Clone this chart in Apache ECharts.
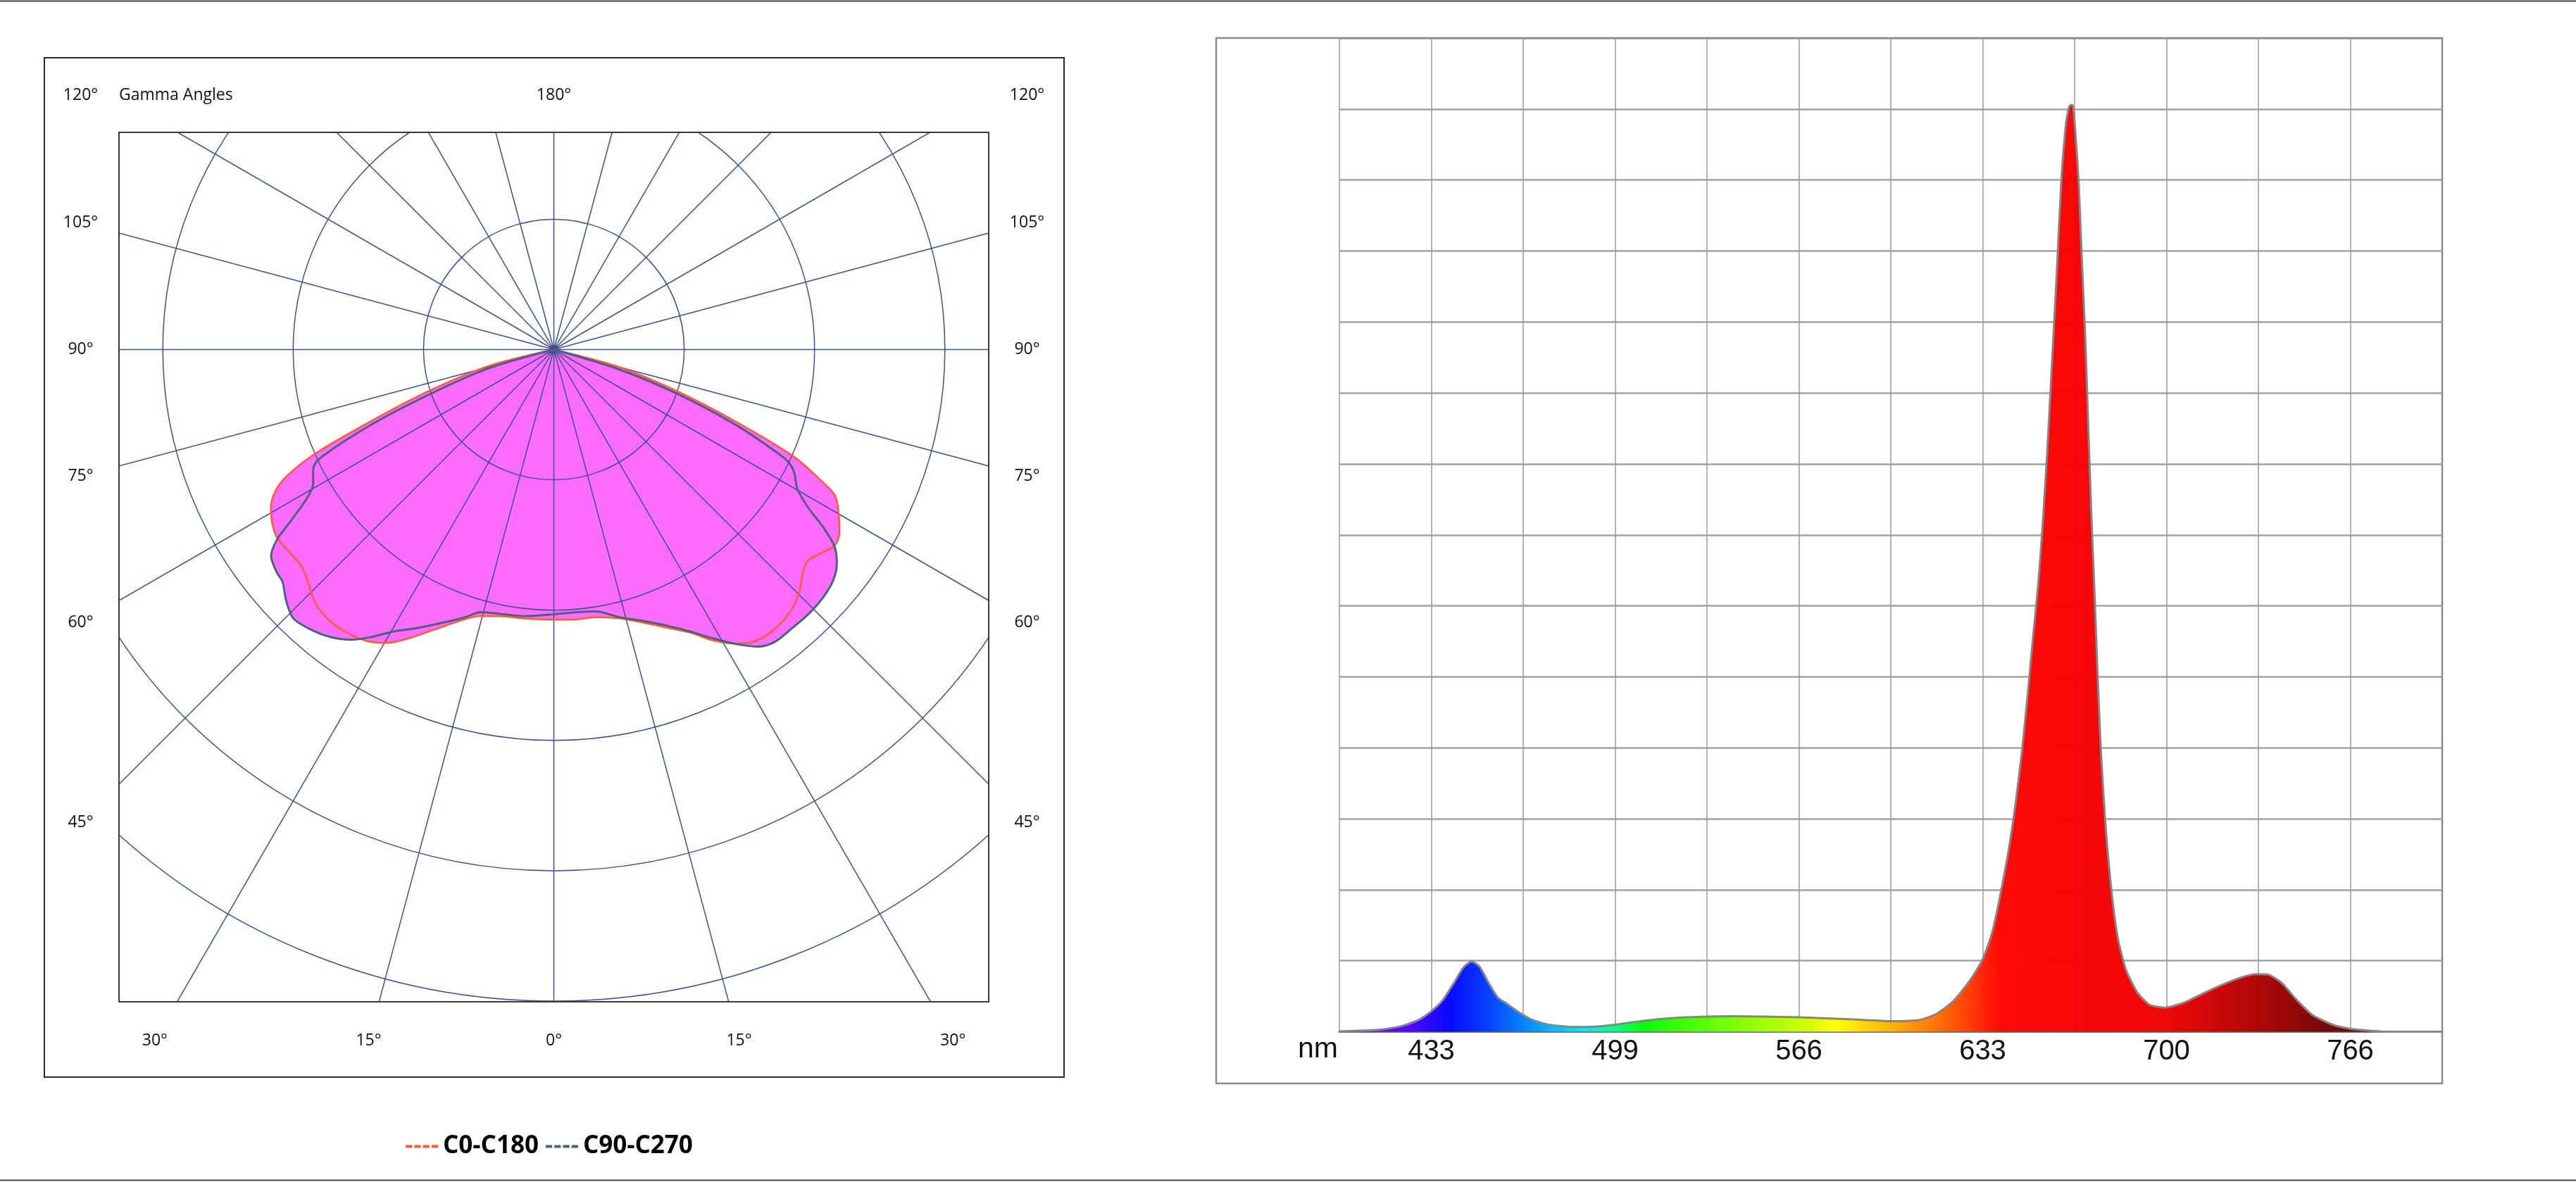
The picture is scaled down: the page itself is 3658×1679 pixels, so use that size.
<!DOCTYPE html>
<html>
<head>
<meta charset="utf-8">
<script src="https://cdn.jsdelivr.net/npm/echarts@6/dist/echarts.min.js"></script>
<style>
html,body{margin:0;padding:0;background:#ffffff;}
#chart{width:3658px;height:1679px;}
</style>
</head>
<body>
<div id="chart"></div>
<script>
// ---------------- Polar (gamma angle, intensity) data ----------------
// C0-C180 plane: left half (gamma 90 -> 0) and right half (gamma 0 -> 90)
const c0c180LeftGamma  = [90, 75.8, 71.7, 68.6, 66.4, 64.6, 63.1, 60.9, 58.3, 55.8, 52.7, 49.7, 47.0, 44.0, 40.9, 37.0, 32.8, 29.6, 26.7, 22.8, 19.1, 15.7, 11.4, 6.5, 0];
const c0c180LeftValue  = [0, 51.9, 100.5, 150.8, 200.4, 227.2, 239.3, 248.4, 254.0, 256.8, 255.8, 255.0, 258.7, 265.7, 269.5, 269.6, 265.9, 259.0, 248.2, 232.6, 220.3, 212.5, 208.7, 207.7, 207.3];
const c0c180RightGamma = [4.0, 9.0, 13.8, 17.3, 21.3, 25.7, 28.75, 31.9, 34.7, 38.3, 42.3, 45.4, 48.1, 50.2, 52.4, 55.05, 57.3, 60.3, 62.6, 64.0, 65.95, 68.3, 71.2, 74.9, 90];
const c0c180RightValue = [207.8, 208.0, 212.5, 218.9, 228.3, 241.1, 254.9, 265.9, 272.0, 273.3, 270.5, 264.5, 256.6, 253.4, 257.1, 262.8, 260.3, 251.4, 242.7, 226.5, 201.3, 151.3, 101.0, 52.3, 0];
// C90-C270 plane
const c90c270LeftGamma  = [90, 73.96, 70.2, 67.6, 65.0, 63.5, 60.9, 59.0, 56.9, 55.5, 53.8, 51.1, 49.4, 46.8, 44.1, 41.1, 37.8, 34.8, 32.5, 29.5, 26.05, 21.6, 18.4, 15.5, 11.5, 6.5, 0];
const c90c270LeftValue  = [0, 52.4, 101.4, 151.8, 198.7, 206.3, 211.3, 220.6, 240.8, 257.9, 268.8, 272.9, 274.1, 281.7, 287.3, 284.7, 279.3, 271.2, 261.7, 248.5, 237.8, 224.9, 216.6, 209.1, 207.0, 205.9, 203.2];
const c90c270RightGamma = [5.1, 9.2, 13.8, 18.2, 22.2, 25.8, 28.9, 31.9, 34.5, 37.05, 40.3, 44.2, 47.6, 50.5, 52.9, 54.9, 56.5, 58.2, 60.3, 62.65, 63.9, 64.8, 67.4, 70.2, 73.05, 90];
const c90c270RightValue = [202.3, 203.6, 211.6, 219.2, 228.8, 240.3, 253.3, 266.4, 276.7, 281.2, 281.3, 281.7, 280.7, 277.9, 272.2, 263.3, 248.5, 229.1, 214.8, 208.0, 202.7, 195.2, 152.4, 101.6, 52.8, 0];

const seriesNames = ['C0-C180', 'C90-C270'];
const sideGammaLabels = [120, 105, 90, 75, 60, 45];
const bottomGammaLabels = [30, 15, 0];
const topGammaLabel = 180;
const polarTitle = 'Gamma Angles';

// ---------------- Spectrum data ----------------
const specNm = [400, 408.3, 415.6, 422.9, 428.8, 433.2, 437.6, 442.0, 444.9, 447.9, 450.8, 453.7, 457.4, 461.1, 464.7, 469.9, 475.7, 484.5, 493.3, 502.1, 510.9, 521.2, 531.4, 541.7, 553.4, 566.6, 579.8, 590.1, 600.4, 610.6, 616.5, 622.4, 628.5, 633.1, 636.8, 640.2, 643.1, 645.4, 647.6, 649.9, 651.6, 653.4, 655.1, 656.8, 658.5, 660.2, 661.9, 663.6, 664.8, 665.9, 667.0, 668.2, 669.3, 670.5, 671.6, 672.7, 673.9, 675.0, 676.2, 677.9, 680.2, 682.4, 685.3, 689.3, 693.8, 699.5, 706.4, 715.5, 724.6, 732.6, 737.2, 741.7, 747.4, 753.1, 761.1, 768.0, 780.5, 800];
const specValue = [0.005, 0.017, 0.033, 0.083, 0.167, 0.283, 0.45, 0.717, 0.9, 0.99, 0.917, 0.717, 0.483, 0.383, 0.283, 0.167, 0.10, 0.067, 0.073, 0.11, 0.157, 0.193, 0.21, 0.217, 0.213, 0.203, 0.183, 0.167, 0.15, 0.167, 0.25, 0.42, 0.71, 1.0, 1.40, 2.02, 2.64, 3.26, 3.96, 4.85, 5.56, 6.27, 7.15, 8.21, 9.45, 10.69, 12.02, 12.81, 13.04, 13.06, 12.64, 11.93, 10.87, 9.81, 8.57, 7.33, 6.18, 5.03, 3.96, 2.90, 1.93, 1.31, 0.87, 0.56, 0.38, 0.34, 0.41, 0.58, 0.73, 0.81, 0.80, 0.69, 0.44, 0.23, 0.088, 0.035, 0.0, 0];
const specTickLabels = ['433', '499', '566', '633', '700', '766'];
const specUnit = 'nm';

// spectral colour ramp (wavelength nm -> colour)
const rampNm    = [400, 425, 440, 455, 470, 487, 500, 510, 540, 570, 580, 600, 620, 640, 700, 735, 760, 800];
const rampColor = ['#7a00ff', '#4d00ff', '#0000ff', '#0040ff', '#0090ff', '#00e5ff', '#00ff80', '#00ff00', '#70ff00', '#d0ff00', '#ffff00', '#ffb000', '#ff6000', '#ff0000', '#f00000', '#a80000', '#6e0000', '#600000'];

// ---------------- Build ----------------
function buildPolar(lg, lv, rg, rv) {
  const out = [];
  for (let i = 0; i < lg.length; i++) out.push([lv[i], lg[i]]);
  for (let i = 0; i < rg.length; i++) out.push([rv[i], 360 - rg[i]]);
  return out;
}
const dataA = buildPolar(c0c180LeftGamma, c0c180LeftValue, c0c180RightGamma, c0c180RightValue);
const dataB = buildPolar(c90c270LeftGamma, c90c270LeftValue, c90c270RightGamma, c90c270RightValue);
const specData = specNm.map((n, i) => [n, specValue[i]]);

const W = 3658, H = 1679;
const cx = 786.5, cy = 496.5;             // polar centre
const ringR = 925.5;                       // radius of outer ring (5 rings)
const plot = {x: 169, y: 188, w: 1235, h: 1235};
const frameL = {x: 63, y: 82, w: 1448, h: 1448};
const frameR = {x: 1727, y: 54, w: 1741, h: 1485};
const labelCol = 672, topRowY = 135, bottomRowY = 1478;

const GRID_BLUE = '#3d5190';
const ORANGE = '#ff5c30';
const SLATE = '#4c6182';
const MAGENTA = '#ff6bff';
const FONT = '"Open Sans", "Noto Sans", sans-serif';

const graphics = [];
// white masks clipping polar grid to the plot square
graphics.push({type: 'rect', z: 5, silent: true, shape: {x: 0, y: 0, width: W, height: plot.y}, style: {fill: '#fff'}});
graphics.push({type: 'rect', z: 5, silent: true, shape: {x: 0, y: plot.y + plot.h, width: W, height: H - plot.y - plot.h}, style: {fill: '#fff'}});
graphics.push({type: 'rect', z: 5, silent: true, shape: {x: 0, y: plot.y, width: plot.x, height: plot.h}, style: {fill: '#fff'}});
graphics.push({type: 'rect', z: 5, silent: true, shape: {x: plot.x + plot.w, y: plot.y, width: W - plot.x - plot.w, height: plot.h}, style: {fill: '#fff'}});
// frames and rules
graphics.push({type: 'line', z: 30, shape: {x1: 0, y1: 1.5, x2: W, y2: 1.5}, style: {stroke: '#444', lineWidth: 2}});
graphics.push({type: 'line', z: 30, shape: {x1: 0, y1: H - 2.5, x2: W, y2: H - 2.5}, style: {stroke: '#444', lineWidth: 2}});
graphics.push({type: 'rect', z: 30, shape: {x: frameL.x, y: frameL.y, width: frameL.w, height: frameL.h}, style: {fill: 'none', stroke: '#2a2a2a', lineWidth: 2}});
graphics.push({type: 'rect', z: 30, shape: {x: plot.x, y: plot.y, width: plot.w, height: plot.h}, style: {fill: 'none', stroke: '#3a3a3a', lineWidth: 2}});
graphics.push({type: 'rect', z: 30, shape: {x: frameR.x, y: frameR.y, width: frameR.w, height: frameR.h}, style: {fill: 'none', stroke: '#8a8a8a', lineWidth: 2.5}});

function addText(txt, x, y, align, size, weight) {
  graphics.push({type: 'text', z: 31, x: x, y: y,
    style: {text: txt, fill: '#111', fontSize: size, fontFamily: FONT, fontWeight: weight || 'normal', textAlign: align, textVerticalAlign: 'middle'}});
}
const rad = Math.PI / 180;
sideGammaLabels.forEach(g => {
  let y = cy + labelCol * Math.cos(g * rad) / Math.sin(g * rad);
  y = Math.max(y, topRowY);
  addText(g + '°', cx - labelCol, y, 'center', 23);
  addText(g + '°', cx + labelCol, y, 'center', 23);
});
bottomGammaLabels.forEach(g => {
  const dx = (bottomRowY - cy) * Math.tan(g * rad);
  addText(g + '°', cx - dx, bottomRowY, 'center', 23);
  if (g !== 0) addText(g + '°', cx + dx, bottomRowY, 'center', 23);
});
addText(topGammaLabel + '°', cx, topRowY, 'center', 23);
addText(polarTitle, plot.x, topRowY, 'left', 23);
graphics.push({type: 'text', z: 31, x: 1900, y: 1491,
  style: {text: specUnit, fill: '#111', fontSize: 41, fontFamily: '"Liberation Sans", Arial, sans-serif', textAlign: 'right', textVerticalAlign: 'middle'}});

const stops = rampNm.map((n, i) => ({offset: (n - rampNm[0]) / (rampNm[rampNm.length - 1] - rampNm[0]), color: rampColor[i]}));

const chart = echarts.init(document.getElementById('chart'), null, {renderer: 'canvas'});
const step = (800 - 400) / 12;

chart.setOption({
  animation: false,
  backgroundColor: '#ffffff',
  polar: [
    {center: [cx, cy], radius: 1135},
    {center: [cx, cy], radius: ringR}
  ],
  angleAxis: [
    {polarIndex: 0, type: 'value', min: 0, max: 360, interval: 15, startAngle: -90, clockwise: true, z: 1,
     axisLine: {show: false}, axisTick: {show: false}, axisLabel: {show: false},
     splitLine: {show: true, lineStyle: {color: GRID_BLUE, width: 1.5}}},
    {polarIndex: 1, type: 'value', min: 0, max: 360, interval: 15, startAngle: -90, clockwise: true, z: 1,
     axisLine: {show: false}, axisTick: {show: false}, axisLabel: {show: false}, splitLine: {show: false}}
  ],
  radiusAxis: [
    {polarIndex: 0, type: 'value', min: 0, max: 100, z: 1,
     axisLine: {show: false}, axisTick: {show: false}, axisLabel: {show: false}, splitLine: {show: false}},
    {polarIndex: 1, type: 'value', min: 0, max: 500, interval: 100, z: 1,
     axisLine: {show: false}, axisTick: {show: false}, axisLabel: {show: false},
     splitLine: {show: true, lineStyle: {color: GRID_BLUE, width: 1.5}}}
  ],
  grid: [{left: 1902, right: 190, top: 54, bottom: 213.5, outerBoundsMode: 'none', containLabel: false}],
  xAxis: [{
    type: 'value', gridIndex: 0, min: 400, max: 800, interval: step, z: 6,
    axisLine: {show: true, onZero: false, lineStyle: {color: '#707070', width: 3}},
    axisTick: {show: false},
    splitLine: {show: true, lineStyle: {color: '#9a9a9a', width: 1.5}},
    axisLabel: {
      show: true, margin: 8, fontSize: 40, color: '#111', fontFamily: '"Liberation Sans", Arial, sans-serif',
      showMinLabel: true, showMaxLabel: true,
      formatter: function (v) {
        const idx = Math.round((v - 400) / step);
        return idx % 2 === 1 ? specTickLabels[(idx - 1) / 2] : '';
      }
    }
  }],
  yAxis: [{
    type: 'value', gridIndex: 0, min: 0, max: 14, interval: 1, z: 6,
    axisLine: {show: false}, axisTick: {show: false}, axisLabel: {show: false},
    splitLine: {show: true, lineStyle: {color: '#a3a3a3', width: 2.5}}
  }],
  legend: {
    data: seriesNames, left: 571, top: 1606, orient: 'horizontal', itemGap: 10, z: 40,
    icon: 'path://M0,0H9V1H0Z M12,0H21V1H12Z M24,0H33V1H24Z M36,0H45V1H36Z',
    symbolKeepAspect: false, itemWidth: 46, itemHeight: 4,
    textStyle: {fontSize: 35, fontWeight: 'bold', color: '#000', fontFamily: FONT, padding: [0, 0, 0, 2]},
    selectedMode: false
  },
  graphic: {elements: graphics},
  series: [
    {name: 'fillA', type: 'line', coordinateSystem: 'polar', polarIndex: 1, data: dataA, symbol: 'none', smooth: 0.3,
     silent: true, z: 0, lineStyle: {width: 0, opacity: 0}, areaStyle: {color: MAGENTA, opacity: 1}},
    {name: 'fillB', type: 'line', coordinateSystem: 'polar', polarIndex: 1, data: dataB, symbol: 'none', smooth: 0.3,
     silent: true, z: 0, lineStyle: {width: 0, opacity: 0}, areaStyle: {color: MAGENTA, opacity: 1}},
    {name: seriesNames[0], type: 'line', coordinateSystem: 'polar', polarIndex: 1, data: dataA, symbol: 'none', smooth: 0.3,
     z: 12, color: ORANGE, lineStyle: {color: ORANGE, width: 2.5}},
    {name: seriesNames[1], type: 'line', coordinateSystem: 'polar', polarIndex: 1, data: dataB, symbol: 'none', smooth: 0.3,
     z: 13, color: SLATE, lineStyle: {color: SLATE, width: 3}},
    {name: 'spectrum', type: 'line', xAxisIndex: 0, yAxisIndex: 0, data: specData, symbol: 'none', smooth: 0.2,
     z: 8, color: '#808080', lineStyle: {color: '#858585', width: 3},
     areaStyle: {opacity: 0.97, color: new echarts.graphic.LinearGradient(0, 0, 1, 0, stops)}}
  ]
});
</script>
</body>
</html>
